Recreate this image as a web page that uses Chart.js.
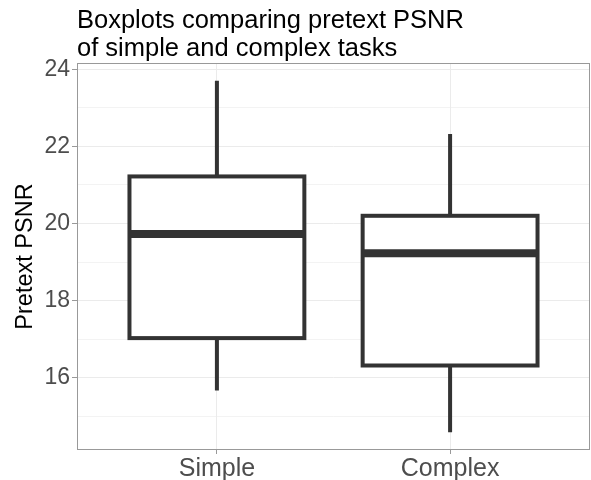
<!DOCTYPE html>
<html>
<head>
<meta charset="utf-8">
<script src="https://cdn.jsdelivr.net/npm/chart.js@4/dist/chart.umd.min.js"></script>
<style>
  html, body { margin: 0; padding: 0; background: #fff; }
  #wrap { width: 591px; height: 480px; position: relative; }
</style>
</head>
<body>
<div id="wrap"><canvas id="chart"></canvas></div>
<script>
const categories = ['Simple', 'Complex'];
const whiskerLow = [15.67, 14.59];
const q1 = [17.03, 16.32];
const median = [19.73, 19.23];
const q3 = [21.22, 20.20];
const whiskerHigh = [23.70, 22.32];

const yTicks = [16, 18, 20, 22, 24];
const yMinor = [15, 17, 19, 21, 23];
const titleLines = ['Boxplots comparing pretext PSNR', 'of simple and complex tasks'];

const font = '"Liberation Sans", Arial, sans-serif';
const boxColor = '#333333';

// ggplot style boxes, drawn through the chart's own scales
const boxplotPlugin = {
  id: 'boxplot',
  afterDatasetsDraw(chart) {
    const { ctx, scales: { x, y } } = chart;
    const half = x.getPixelForValue(1 + 0.375) - x.getPixelForValue(1);
    ctx.save();
    ctx.strokeStyle = boxColor;
    ctx.lineCap = 'butt';
    categories.forEach((c, i) => {
      const cx = x.getPixelForValue(i + 1);
      ctx.lineWidth = 4;
      ctx.beginPath();
      ctx.moveTo(cx, y.getPixelForValue(whiskerHigh[i]));
      ctx.lineTo(cx, y.getPixelForValue(q3[i]));
      ctx.moveTo(cx, y.getPixelForValue(q1[i]));
      ctx.lineTo(cx, y.getPixelForValue(whiskerLow[i]));
      ctx.stroke();

      const top = y.getPixelForValue(q3[i]);
      const bot = y.getPixelForValue(q1[i]);
      ctx.fillStyle = '#fff';
      ctx.fillRect(cx - half, top, half * 2, bot - top);
      ctx.strokeRect(cx - half, top, half * 2, bot - top);

      ctx.lineWidth = 8;
      ctx.beginPath();
      ctx.moveTo(cx - half, y.getPixelForValue(median[i]));
      ctx.lineTo(cx + half, y.getPixelForValue(median[i]));
      ctx.stroke();
    });
    ctx.restore();
  },
  afterDraw(chart) {
    const { ctx, chartArea: a } = chart;
    ctx.save();
    ctx.strokeStyle = '#999';
    ctx.lineWidth = 1;
    ctx.strokeRect(a.left + 0.5, a.top + 0.5, a.right - a.left - 1, a.bottom - a.top - 1);
    ctx.fillStyle = '#000';
    ctx.font = '25.5px ' + font;
    ctx.textBaseline = 'alphabetic';
    ctx.fillText(titleLines[0], a.left, 28);
    ctx.fillText(titleLines[1], a.left, 56);
    ctx.restore();
  }
};

new Chart(document.getElementById('chart'), {
  type: 'scatter',
  data: { datasets: [] },
  plugins: [boxplotPlugin],
  options: {
    responsive: true,
    maintainAspectRatio: false,
    animation: false,
    layout: { padding: { top: 63, right: 1, left: 0, bottom: 0 } },
    plugins: { legend: { display: false }, tooltip: { enabled: false } },
    scales: {
      x: {
        type: 'linear',
        min: 0.4,
        max: 2.6,
        afterBuildTicks: axis => { axis.ticks = categories.map((c, i) => ({ value: i + 1 })); },
        afterFit: axis => { axis.height = 30; },
        border: { display: false },
        grid: { color: '#ebebeb', lineWidth: 1, tickColor: '#999', tickLength: 4 },
        ticks: {
          callback: v => categories[v - 1],
          color: '#4d4d4d',
          padding: 0,
          maxRotation: 0,
          font: { family: font, size: 25 }
        }
      },
      y: {
        min: 14.13,
        max: 24.16,
        afterBuildTicks: axis => {
          axis.ticks = [...yMinor, ...yTicks].sort((a, b) => a - b).map(v => ({ value: v }));
        },
        afterFit: axis => { axis.width = 77; },
        border: { display: false },
        grid: {
          color: '#ebebeb',
          lineWidth: c => (c.tick && yTicks.includes(c.tick.value)) ? 1 : 0.6,
          tickColor: c => (c.tick && yTicks.includes(c.tick.value)) ? '#999' : 'rgba(0,0,0,0)',
          tickLength: 5
        },
        ticks: {
          callback: v => yTicks.includes(v) ? v : '',
          color: '#4d4d4d',
          padding: 2,
          font: { family: font, size: 23 }
        },
        title: {
          display: true,
          text: 'Pretext PSNR',
          color: '#000',
          padding: { top: 11, bottom: 0 },
          font: { family: font, size: 23.5 }
        }
      }
    }
  }
});
</script>
</body>
</html>
